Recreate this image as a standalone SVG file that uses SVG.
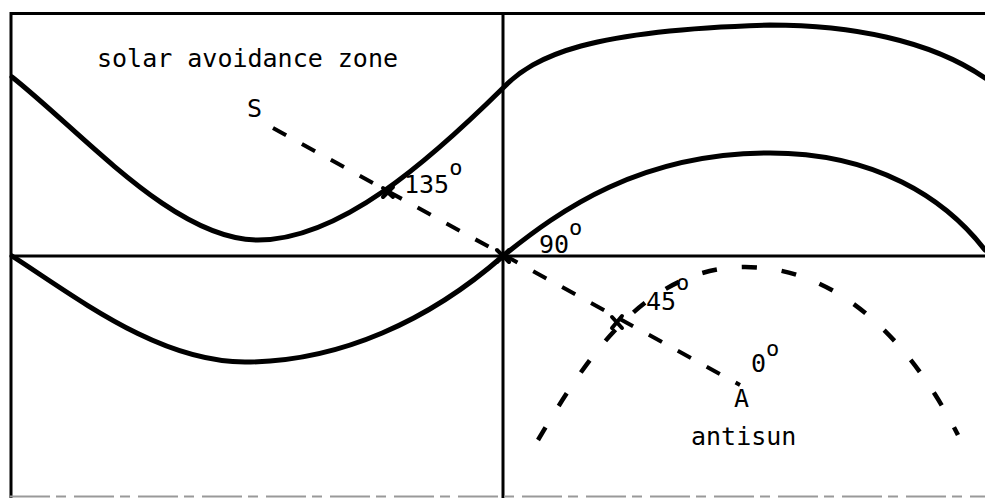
<svg xmlns="http://www.w3.org/2000/svg" width="985" height="498" viewBox="0 0 985 498">
<style>
.frame{stroke:#000;stroke-width:3;fill:none}
.curve{stroke:#000;stroke-width:5;fill:none;stroke-linecap:round}
.dash{stroke:#000;stroke-width:4;fill:none;stroke-dasharray:15 18}
.dcurve{stroke:#000;stroke-width:4.5;fill:none;stroke-dasharray:15 25}
.mark{stroke:#000;stroke-width:4;stroke-linecap:round}
text{font-family:"DejaVu Sans Mono","Liberation Mono",monospace;font-size:25px;fill:#000}
.sup{font-size:22px}
</style>
<rect x="0" y="0" width="985" height="498" fill="#fff"/>
<g id="frame">
<line class="frame" x1="10" y1="13.5" x2="985" y2="13.5"/>
<line class="frame" x1="11" y1="12" x2="11" y2="498"/>
<line class="frame" x1="503" y1="13" x2="503" y2="498"/>
<line class="frame" x1="10" y1="256" x2="985" y2="256" stroke-width="3.5"/>
<line x1="10" y1="496.5" x2="985" y2="496.5" stroke="#999" stroke-width="2" stroke-dasharray="40 6 10 8"/>
</g>
<g id="curves">
<path class="curve" d="M12,77 C85,135 175,240 258,240 C340,240 430,160 503,88 C535,55 590,30 770,25 C850,25 930,40 985,78"/>
<path class="curve" d="M503,256 C560,210 640,153 770,153 C875,153 945,198 985,250"/>
<path class="curve" d="M12,256 C80,300 160,362 245,362 C340,362 430,320 503,256"/>
</g>
<g id="connectors">
<line class="dash" x1="273" y1="128" x2="740" y2="385"/>
<path class="dcurve" d="M538,440 C580,370 640,267 745,267 C850,267 920,360 958,435"/>
</g>
<g id="marks">
<line class="mark" x1="383" y1="188" x2="393" y2="197"/>
<line class="mark" x1="383" y1="197" x2="393" y2="187"/>
<line class="mark" x1="612" y1="317" x2="622" y2="328"/>
<line class="mark" x1="612" y1="328" x2="622" y2="316"/>
<line class="mark" x1="497" y1="250" x2="509" y2="262"/>
<line class="mark" x1="497" y1="262" x2="509" y2="250"/>
</g>
<g id="zone-label"><text x="97" y="67">solar avoidance zone</text></g>
<g id="sun-S"><text x="247" y="117">S</text></g>
<g id="angle-135"><text x="404" y="193">135<tspan class="sup" dy="-18">o</tspan></text></g>
<g id="angle-90"><text x="539" y="253">90<tspan class="sup" dy="-18">o</tspan></text></g>
<g id="angle-45"><text x="646" y="310">45<tspan class="sup" dy="-20">o</tspan></text></g>
<g id="angle-0"><text x="751" y="372">0<tspan class="sup" dy="-16">o</tspan></text></g>
<g id="antisun-A"><text x="734" y="407">A</text></g>
<g id="antisun-label"><text x="691" y="445">antisun</text></g>
</svg>
